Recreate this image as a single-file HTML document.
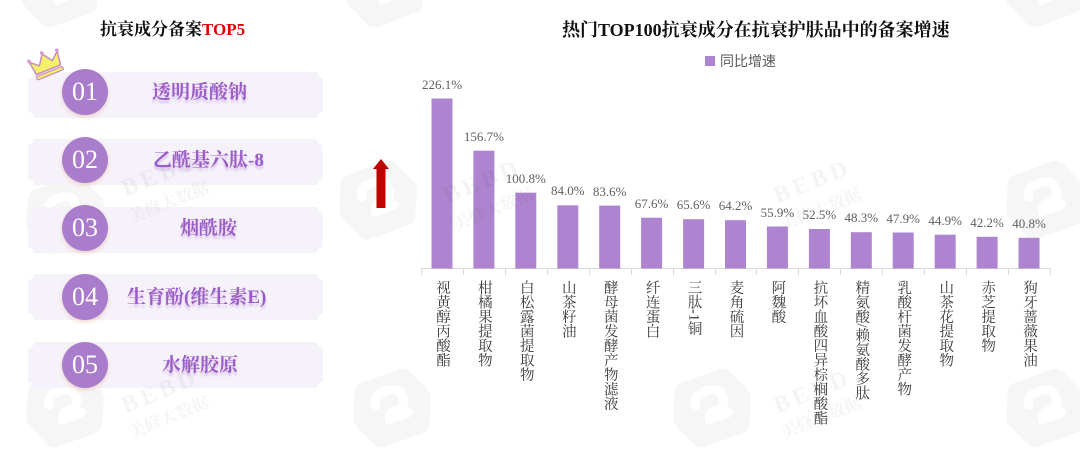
<!DOCTYPE html>
<html><head><meta charset="utf-8">
<style>
html,body{margin:0;padding:0;background:#fff;}
#wrap{position:relative;width:1080px;height:462px;overflow:hidden;background:#fff;font-family:"Liberation Serif","Noto Serif CJK SC",serif;}
.abs{position:absolute;white-space:nowrap;}
.rowtxt{position:absolute;font-size:19px;font-weight:bold;color:#9a5cc7;line-height:24px;text-shadow:0 3px 2px rgba(160,100,205,0.35);font-family:"Liberation Serif","Noto Serif CJK SC",serif;white-space:nowrap;}
.num{position:absolute;width:46px;text-align:center;color:#fff;font-size:26px;line-height:30px;font-family:"Liberation Serif",serif;}
.val{position:absolute;width:60px;text-align:center;font-size:13px;color:#606060;line-height:13px;font-family:"Liberation Serif",serif;}
.cat{position:absolute;writing-mode:vertical-rl;font-size:14.5px;line-height:20px;width:20px;color:#3a3a3a;font-family:"Liberation Serif","Noto Serif CJK SC",serif;white-space:nowrap;}
.wm{position:absolute;color:rgba(0,0,0,0.045);font-weight:bold;transform:rotate(-22deg);transform-origin:0 0;white-space:nowrap;font-family:"Liberation Serif","Noto Serif CJK SC",serif;}
</style></head>
<body><div id="wrap">
<svg width="1080" height="462" style="position:absolute;left:0;top:0">
  <defs>
    <filter id="sh" x="-30%" y="-30%" width="160%" height="170%">
      <feDropShadow dx="0" dy="2" stdDeviation="2" flood-color="#e0a890" flood-opacity="0.45"/>
    </filter>
    <g id="hex">
      <path d="M-20,-34 L20,-34 Q26,-34 29,-29 L39,-6 Q42,0 39,6 L29,29 Q26,34 20,34 L-20,34 Q-26,34 -29,29 L-39,6 Q-42,0 -39,-6 L-29,-29 Q-26,-34 -20,-34Z" fill="#000" fill-opacity="0.035"/>
      <path d="M-14,-8 Q-14,-18 0,-18 Q14,-18 14,-6 Q14,4 0,4 Q-6,4 -6,10 L14,10" fill="none" stroke="#fff" stroke-width="9" stroke-linecap="round"/>
    </g>
  </defs>
  <!-- watermarks -->
  <use href="#hex" transform="translate(65,215) rotate(-20)"/>
  <use href="#hex" transform="translate(65,408) rotate(-20)"/>
  <use href="#hex" transform="translate(60,-12) rotate(-20)"/>
  <use href="#hex" transform="translate(385,-12) rotate(-20)"/>
  <use href="#hex" transform="translate(378,200) rotate(-20)"/>
  <use href="#hex" transform="translate(392,408) rotate(-20)"/>
  <use href="#hex" transform="translate(712,408) rotate(-20)"/>
  <use href="#hex" transform="translate(1045,200) rotate(-20)"/>
  <use href="#hex" transform="translate(1045,408) rotate(-20)"/>
  <use href="#hex" transform="translate(1045,-12) rotate(-20)"/>

  <!-- row bands -->
  <g fill="#f6f2fa">
    <path id="band" d="M34,72 L317,72 A6,6 0 0 0 323,78 L323,112 A6,6 0 0 0 317,118 L34,118 A6,6 0 0 0 28,112 L28,78 A6,6 0 0 0 34,72Z"/>
    <use href="#band" transform="translate(0,67)"/>
    <use href="#band" transform="translate(0,135)"/>
    <use href="#band" transform="translate(0,202)"/>
    <use href="#band" transform="translate(0,270)"/>
  </g>
  <!-- circles -->
  <g fill="#a97dcc" filter="url(#sh)">
    <circle cx="85" cy="92" r="23"/>
    <circle cx="85" cy="160" r="23"/>
    <circle cx="85" cy="228" r="23"/>
    <circle cx="85" cy="297" r="23"/>
    <circle cx="85" cy="365" r="23"/>
  </g>
  <!-- crown -->
  <g transform="translate(47,66) rotate(-22)">
    <path d="M-13,4 L-15,-10 L-7,-3 L0,-13 L7,-3 L15,-10 L13,4 Z" fill="#f4f06a" stroke="#c88cc0" stroke-width="1.5" stroke-linejoin="round"/>
    <rect x="-14" y="6" width="28" height="3.5" rx="1" fill="#f4f06a" stroke="#c88cc0" stroke-width="1.2"/>
    <circle cx="-15" cy="-11" r="1.8" fill="#d59ac8"/>
    <circle cx="0" cy="-14" r="1.8" fill="#d59ac8"/>
    <circle cx="15" cy="-11" r="1.8" fill="#d59ac8"/>
  </g>

  <!-- red arrow -->
  <path d="M381,159 L389,169 L385.5,169 L385.5,208 L376.5,208 L376.5,169 L373,169 Z" fill="#c00000"/>

  <!-- legend -->
  <rect x="705" y="56" width="10" height="10" fill="#ae84d0"/>

  <!-- axis -->
  <line x1="421" y1="268.5" x2="1050" y2="268.5" stroke="#d9d9d9" stroke-width="1"/>
  <g stroke="#d9d9d9" stroke-width="1" id="ticks"></g>
  <g fill="#ae84d0" id="bars"></g>
</svg>

<div class="wm" style="left:118px;top:178px;font-size:24px;letter-spacing:4px">BEBD</div>
<div class="wm" style="left:124px;top:205px;font-size:17px">美修大数据</div>
<div class="wm" style="left:118px;top:395px;font-size:24px;letter-spacing:4px">BEBD</div>
<div class="wm" style="left:124px;top:420px;font-size:17px">美修大数据</div>
<div class="wm" style="left:440px;top:185px;font-size:24px;letter-spacing:4px">BEBD</div>
<div class="wm" style="left:448px;top:212px;font-size:17px">美修大数据</div>
<div class="wm" style="left:770px;top:395px;font-size:24px;letter-spacing:4px">BEBD</div>
<div class="wm" style="left:776px;top:420px;font-size:17px">美修大数据</div>
<div class="wm" style="left:770px;top:185px;font-size:24px;letter-spacing:4px">BEBD</div>
<div class="wm" style="left:776px;top:212px;font-size:17px">美修大数据</div>

<!-- left title -->
<div class="abs" style="left:100px;top:19px;font-size:17px;font-weight:bold;line-height:22px;color:#111">抗衰成分备案<span style="color:#e00000">TOP5</span></div>

<div class="num" style="left:62px;top:77px">01</div>
<div class="num" style="left:62px;top:145px">02</div>
<div class="num" style="left:62px;top:213px">03</div>
<div class="num" style="left:62px;top:282px">04</div>
<div class="num" style="left:62px;top:350px">05</div>

<div class="rowtxt" style="left:152px;top:81px">透明质酸钠</div>
<div class="rowtxt" style="left:153px;top:149px">乙酰基六肽-8</div>
<div class="rowtxt" style="left:180px;top:217px">烟酰胺</div>
<div class="rowtxt" style="left:127px;top:286px">生育酚(维生素E)</div>
<div class="rowtxt" style="left:162px;top:354px">水解胶原</div>

<!-- right title -->
<div class="abs" style="left:562px;top:18px;font-size:18px;font-weight:bold;line-height:24px;color:#111">热门TOP100抗衰成分在抗衰护肤品中的备案增速</div>
<div class="abs" style="left:720px;top:52px;font-size:14px;line-height:18px;color:#595959;font-family:'Liberation Sans','Noto Sans CJK SC',sans-serif">同比增速</div>

<div id="labels"></div>

<script>
(function(){
  var vals=[226.1,156.7,100.8,84.0,83.6,67.6,65.6,64.2,55.9,52.5,48.3,47.9,44.9,42.2,40.8];
  var cats=["视黄醇丙酸酯","柑橘果提取物","白松露菌提取物","山茶籽油","酵母菌发酵产物滤液","纤连蛋白","三肽-1铜","麦角硫因","阿魏酸","抗坏血酸四异棕榈酸酯","精氨酸/赖氨酸多肽","乳酸杆菌发酵产物","山茶花提取物","赤芝提取物","狗牙蔷薇果油"];
  var x0=421,x1=1050,n=15,w=(x1-x0)/n,base=268.5,k=0.752;
  var ns="http://www.w3.org/2000/svg";
  var bars=document.getElementById("bars"),ticks=document.getElementById("ticks");
  var lab=document.getElementById("labels");
  for(var i=0;i<=n;i++){
    var t=document.createElementNS(ns,"line");
    var tx=Math.round(x0+w*i)+0.5;
    t.setAttribute("x1",tx);t.setAttribute("x2",tx);t.setAttribute("y1",268.5);t.setAttribute("y2",275);
    ticks.appendChild(t);
  }
  var html="";
  for(var i=0;i<n;i++){
    var c=x0+w*(i+0.5);
    var h=vals[i]*k;
    var r=document.createElementNS(ns,"rect");
    r.setAttribute("x",(c-10.5).toFixed(1));r.setAttribute("y",(base-h).toFixed(1));
    r.setAttribute("width",21);r.setAttribute("height",h.toFixed(1));
    bars.appendChild(r);
    html+='<div class="val" style="left:'+(c-30).toFixed(1)+'px;top:'+(base-h-21).toFixed(1)+'px">'+vals[i].toFixed(1)+'%</div>';
    html+='<div class="cat" style="left:'+(c-10).toFixed(1)+'px;top:280px">'+cats[i]+'</div>';
  }
  lab.innerHTML=html;
})();
</script>
</div></body></html>
